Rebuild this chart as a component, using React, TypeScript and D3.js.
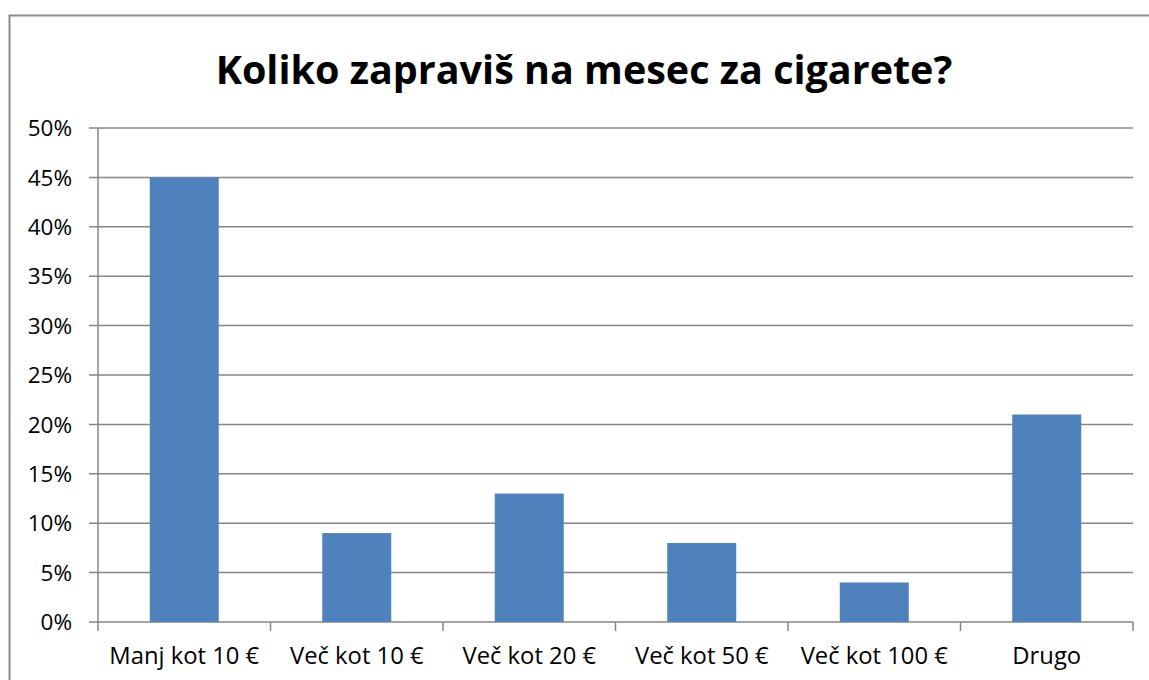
import React from "react";
import * as d3 from "d3";

const categories = ["Manj kot 10 €", "Več kot 10 €", "Več kot 20 €", "Več kot 50 €", "Več kot 100 €", "Drugo"];
const values = [45, 9, 13, 8, 4, 21];
const yTicks = [0, 5, 10, 15, 20, 25, 30, 35, 40, 45, 50];
const title = "Koliko zapraviš na mesec za cigarete?";

const W = 1149;
const H = 680;
const left = 98;
const right = 1133;
const top = 128;
const bottom = 622;
const font = "'Open Sans', 'Noto Sans', sans-serif";

export default function App() {
  const x = d3.scaleBand<string>().domain(categories).range([left, right]).paddingInner(0.6).paddingOuter(0.3);
  const xb = d3.scaleBand<string>().domain(categories).range([left, right]);
  const y = d3.scaleLinear().domain([0, 50]).range([bottom, top]);
  const grid = "#868686";
  return (
    <svg width={W} height={H} style={{ position: "absolute", left: 0, top: 0, background: "#fff" }}>
      <rect x={9.5} y={15.5} width={1160} height={700} fill="#fff" stroke="#8c8c8c" strokeWidth={2} />
      <text x={584} y={84} textAnchor="middle" fontFamily={font} fontWeight="bold" fontSize={39.5} fill="#000">
        {title}
      </text>
      {yTicks.map((t) => (
        <g key={t}>
          <line x1={left - 9} x2={right} y1={y(t)} y2={y(t)} stroke={grid} strokeWidth={1.5} />
          <text x={72} y={y(t)} dy="0.36em" textAnchor="end" fontFamily={font} fontSize={22.5} fill="#000">
            {t}%
          </text>
        </g>
      ))}
      <line x1={left} x2={left} y1={top} y2={bottom} stroke={grid} strokeWidth={1.5} />
      {categories.map((c) => (
        <line key={"t" + c} x1={xb(c)!} x2={xb(c)!} y1={bottom} y2={bottom + 9} stroke={grid} strokeWidth={1.5} />
      ))}
      <line x1={right} x2={right} y1={bottom} y2={bottom + 9} stroke={grid} strokeWidth={1.5} />
      {categories.map((c, i) => (
        <rect key={"b" + c} x={x(c)!} y={y(values[i])} width={x.bandwidth()} height={bottom - y(values[i])} fill="#4F81BD" />
      ))}
      {categories.map((c) => (
        <text key={"l" + c} x={xb(c)! + xb.bandwidth() / 2} y={664} textAnchor="middle" fontFamily={font} fontSize={23.8} fill="#000">
          {c}
        </text>
      ))}
    </svg>
  );
}
